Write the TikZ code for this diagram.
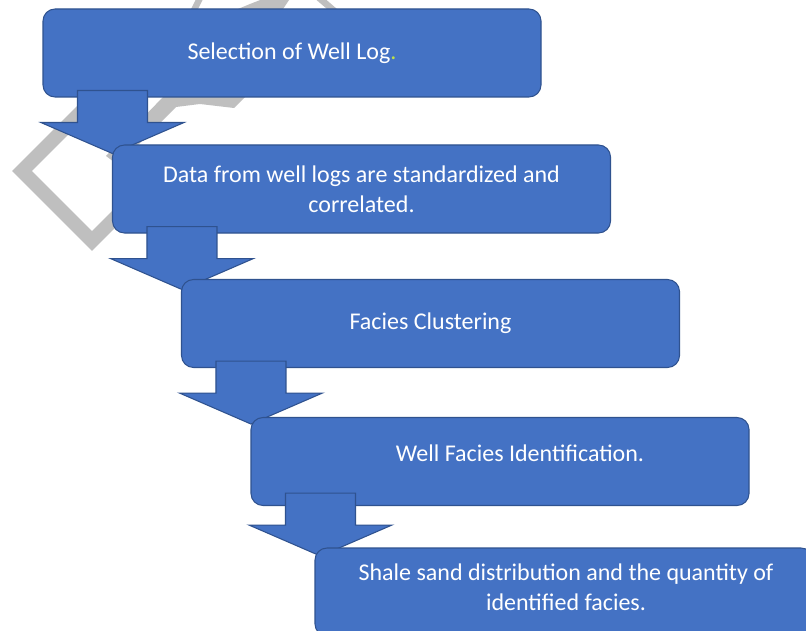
\documentclass[tikz,border=0pt]{standalone}
\usepackage{fontspec}
\setmainfont{Carlito}
\definecolor{stepblue}{RGB}{68,114,196}
\definecolor{stepline}{RGB}{47,82,143}
\definecolor{wmgray}{RGB}{191,191,191}
\definecolor{dotgreen}{RGB}{190,225,70}
\begin{document}
\begin{tikzpicture}[x=0.75pt,y=-0.75pt,
box/.style={draw=stepline,line width=0.8pt,rounded corners=9pt,fill=stepblue,
minimum width=373.5pt,minimum height=66pt,align=center,text=white,
font=\fontsize{18pt}{22.5pt}\selectfont},
txt/.style={align=center,text=white,font=\fontsize{18pt}{22.5pt}\selectfont},
blk/.style={draw=stepline,line width=0.8pt,fill=stepblue},
wm/.style={fill=wmgray},
downarr/.pic={\path[blk] (35,-7) -- (105,-7) -- (105,25) -- (141.5,25) -- (70,56)
  -- (-1.5,25) -- (35,25) -- cycle;}
]
\useasboundingbox (0,0) rectangle (806,631);
\clip (0,0) rectangle (806,631);
\fill[white] (0,0) rectangle (806,631);
\draw[wmgray,line width=10.5pt] (100,93) -- (22,171) -- (92,241) -- (125,208);
\path[wm] (163,97) -- (245,97) -- (234,108) -- (200,104) -- (176,107) -- (118,165) -- (106,156) -- cycle;
\path[wm] (191,9) -- (197,-3) -- (204,-3) -- (198,9) -- cycle;
\path[wm] (238,9) -- (250,4) -- (268,-3) -- (291,-3) -- (283,9) -- cycle;
\path[wm] (313,-3) -- (323,-3) -- (337,9) -- (327,9) -- cycle;
\node[box] (sel) at (292,53) {Selection of Well Log{\color{dotgreen}.}};
\pic at (sel.south west) {downarr};
\node[box] (data) at (361.5,189) {Data from well logs are standardized and\\correlated.};
\pic at (data.south west) {downarr};
\node[box] (clus) at (430.5,323.5) {Facies Clustering};
\pic at (clus.south west) {downarr};
\node[box] (ident) at (500,461.5) {};
\node[txt] (identtext) at (520,453) {Well Facies Identification.};
\pic at ([yshift=4.5pt]ident.south west) {downarr};
\node[box] (shale) at (564,592) {};
\node[txt] (shaletext) at (566,587) {Shale sand distribution and the quantity of\\identified facies.};
\end{tikzpicture}
\end{document}
